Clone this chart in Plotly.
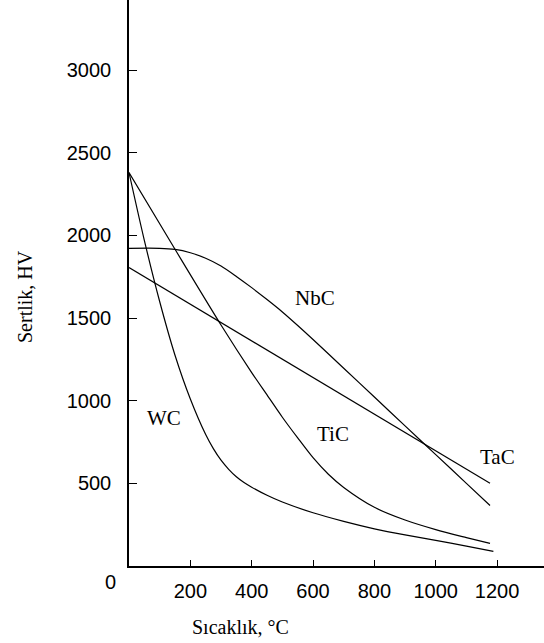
import plotly.graph_objects as go

# Data (temperature °C, hardness HV)
wc_t = [0, 50, 100, 150, 200, 250, 275, 300, 325, 350, 375, 400, 450, 500, 600, 700, 800, 900, 1000, 1100, 1188]
wc_hv = [2380, 1970, 1600, 1275, 1010, 795, 710, 640, 585, 540, 505, 477, 428, 387, 322, 270, 225, 188, 155, 120, 88]

tic_t = [0, 150, 300, 400, 450, 500, 550, 600, 650, 700, 800, 900, 1000, 1100, 1177]
tic_hv = [2380, 1916, 1458, 1170, 1035, 900, 775, 655, 555, 475, 355, 278, 220, 172, 137]

nbc_t = [0, 100, 150, 200, 250, 300, 350, 400, 450, 500, 550, 600, 700, 800, 900, 1000, 1100, 1177]
nbc_hv = [1922, 1922, 1915, 1895, 1862, 1815, 1752, 1684, 1612, 1537, 1455, 1370, 1196, 1022, 848, 674, 500, 366]

tac_t = [0, 1177]
tac_hv = [1805, 500]

x_ticks = [200, 400, 600, 800, 1000, 1200]
y_ticks = [500, 1000, 1500, 2000, 2500, 3000]

labels = ["WC", "TiC", "NbC", "TaC"]
label_x = [114, 665, 606, 1200]
label_y = [895, 799, 1621, 660]

fig = go.Figure()
for t, hv, name in [(wc_t, wc_hv, "WC"), (tic_t, tic_hv, "TiC"),
                    (nbc_t, nbc_hv, "NbC"), (tac_t, tac_hv, "TaC")]:
    fig.add_trace(go.Scatter(x=t, y=hv, mode="lines", name=name,
                             line=dict(color="black", width=1.2, shape="spline", smoothing=0.8),
                             showlegend=False, hoverinfo="x+y+name"))

serif = "Liberation Serif, Times New Roman, serif"
sans = "Liberation Sans, Arial, sans-serif"

for txt, lx, ly in zip(labels, label_x, label_y):
    fig.add_annotation(x=lx, y=ly, text=txt, showarrow=False,
                       font=dict(family=serif, size=21, color="black"),
                       xanchor="center", yanchor="middle")

fig.add_annotation(x=0, y=0, text="0", showarrow=False, xshift=-19, yshift=-16,
                   font=dict(family=sans, size=20, color="black"),
                   xanchor="center", yanchor="middle")

fig.add_annotation(xref="paper", yref="paper", x=(240 - 129) / 415, y=(566 - 627) / 566,
                   text="Sıcaklık, °C", showarrow=False,
                   font=dict(family=serif, size=20, color="black"),
                   xanchor="center", yanchor="middle")
fig.add_annotation(xref="paper", yref="paper", x=(25 - 129) / 415, y=(566 - 296) / 566,
                   text="Sertlik, HV", showarrow=False, textangle=-90,
                   font=dict(family=serif, size=20, color="black"),
                   xanchor="center", yanchor="middle")

fig.update_layout(
    width=544, height=643,
    margin=dict(l=129, r=0, t=0, b=77),
    paper_bgcolor="white", plot_bgcolor="white",
    xaxis=dict(range=[0, 1353], tickvals=x_ticks, ticks="inside", ticklen=6,
               tickcolor="black", tickwidth=1.2,
               showline=True, linecolor="black", linewidth=1.5,
               showgrid=False, zeroline=False, ticklabelstandoff=6,
               tickfont=dict(family=sans, size=20, color="black")),
    yaxis=dict(range=[0, 3424], tickvals=y_ticks, ticks="inside", ticklen=8,
               tickcolor="black", tickwidth=1.2,
               showline=True, linecolor="black", linewidth=1.5,
               showgrid=False, zeroline=False, ticklabelstandoff=12,
               tickfont=dict(family=sans, size=20, color="black")),
)

fig.write_html("out.html", config={"displayModeBar": False},
               post_script="document.body.style.margin='0';document.body.style.overflow='hidden';")
